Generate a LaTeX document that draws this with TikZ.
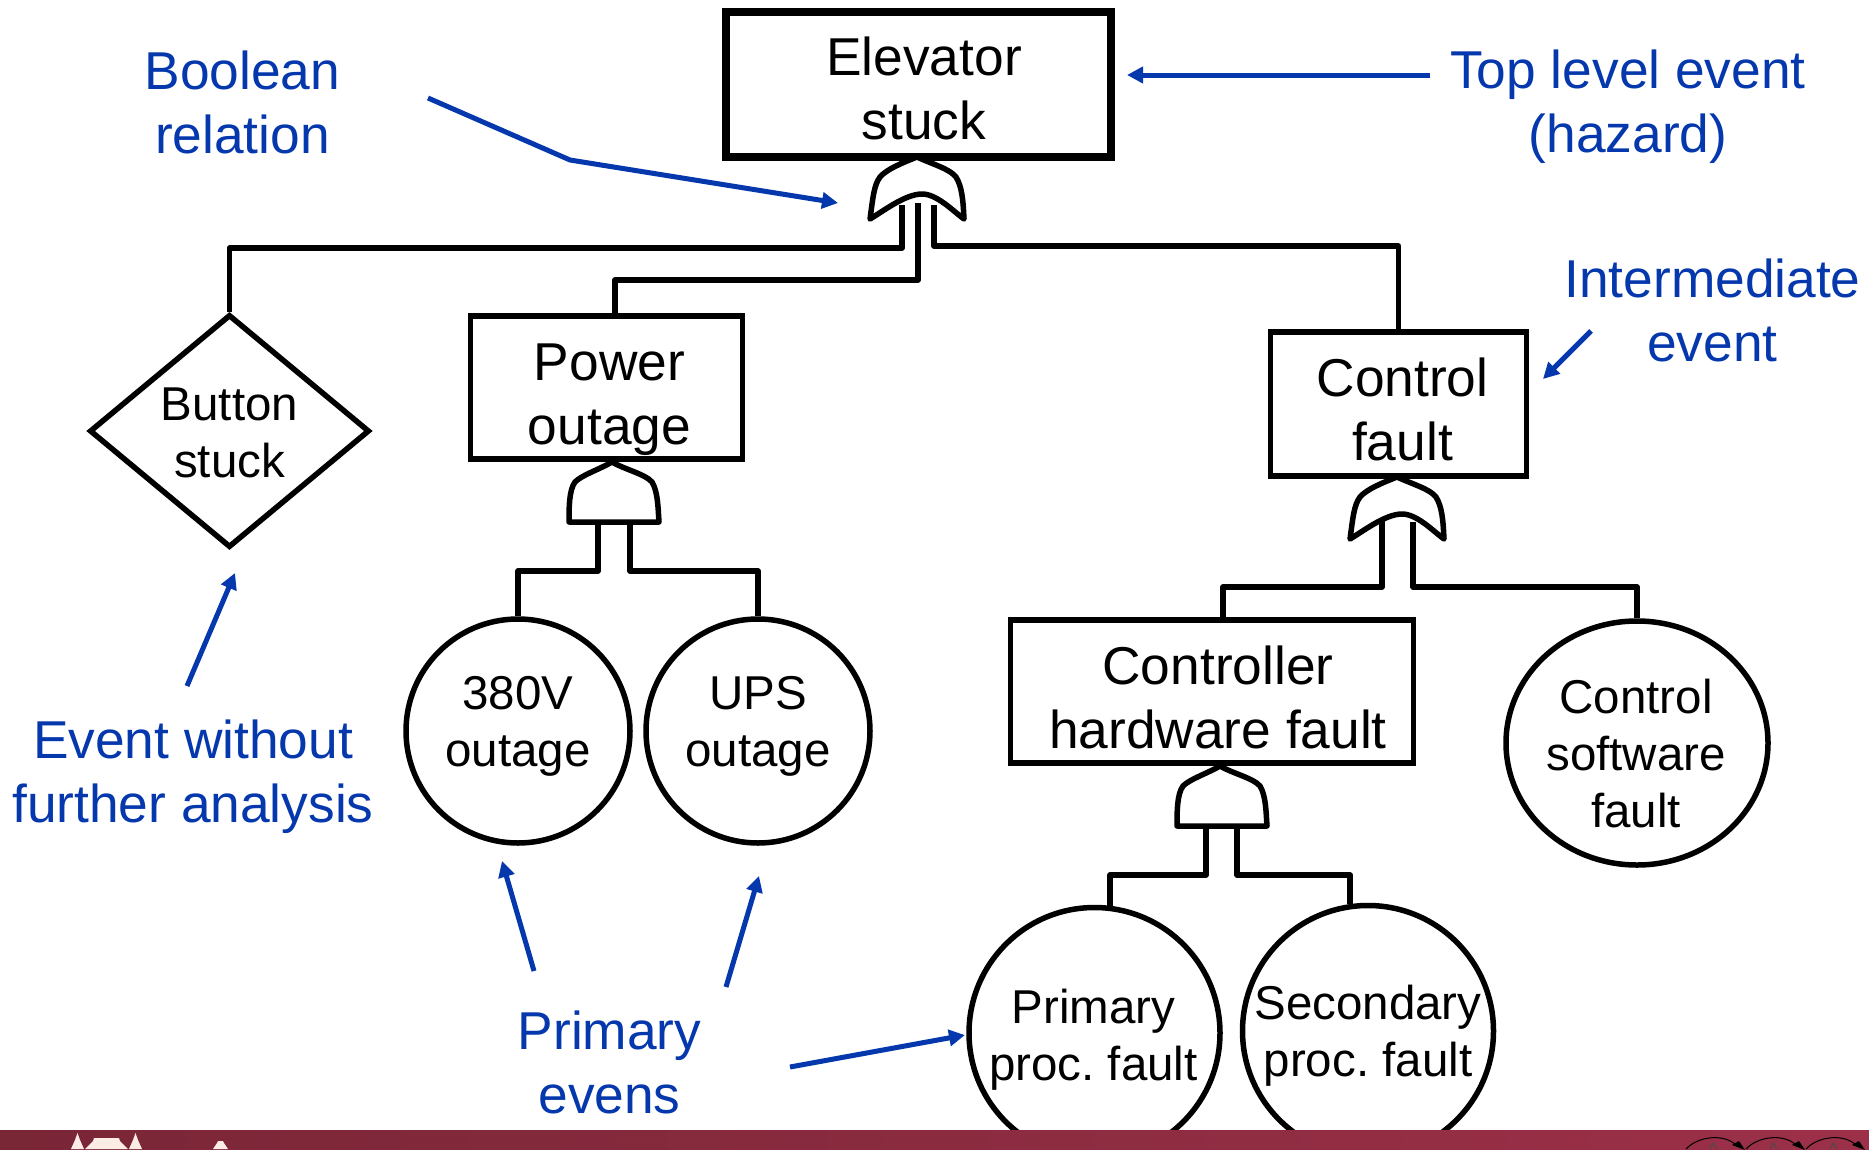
\documentclass[tikz,border=0pt]{standalone}
\usepackage{fontspec}
\setmainfont{Liberation Sans}
\usetikzlibrary{arrows.meta,shapes.geometric}
\frenchspacing
\definecolor{noteblue}{HTML}{0537AD}
\definecolor{footL}{HTML}{792637}
\definecolor{footR}{HTML}{9C3049}
\definecolor{cream}{HTML}{FBEDE6}
\tikzset{
  x=1pt,y=-1pt,
  big/.style={font=\fontsize{53.3}{64}\selectfont,align=center,inner sep=0pt},
  small/.style={font=\fontsize{47.5}{57}\selectfont,align=center,inner sep=0pt},
  boxnode/.style={draw=black,line width=5.5pt,rectangle},
  eventcirc/.style={draw=black,line width=5.5pt,circle,inner sep=0pt},
  wire/.style={draw=black,line width=5.5pt,line join=round},
  gatepath/.style={draw=black,line width=5.5pt,fill=white,line join=round},
  note/.style={big,text=noteblue},
  notearrow/.style={draw=noteblue,line width=5pt,-{Triangle[length=16pt,width=16pt]}}
}
\begin{document}
\begin{tikzpicture}
\useasboundingbox (0,0) rectangle (1869,1149);
\fill[white] (0,0) rectangle (1869,1149);

% events
\node[boxnode,line width=8pt,minimum width=385pt,minimum height=145pt,label={[big,xshift=6pt,yshift=-4pt]center:Elevator\\stuck}] (top) at (918,84) {};
\node[boxnode,minimum width=272pt,minimum height=143pt,label={[big,xshift=3pt,yshift=-12pt]center:Power\\outage}] (power) at (606.5,387.5) {};
\node[boxnode,minimum width=256pt,minimum height=144pt,label={[big,xshift=4pt,yshift=-5pt]center:Control\\fault}] (control) at (1398.5,404) {};
\node[boxnode,minimum width=403pt,minimum height=143pt,label={[big,xshift=6pt,yshift=-6pt]center:Controller\\hardware fault}] (hw) at (1212,691.5) {};
\node[draw=black,line width=5.5pt,diamond,inner sep=0pt,minimum width=280pt,minimum height=233pt,label={[small,yshift=-2pt]center:Button\\stuck}] (button) at (229.5,431) {};
\node[eventcirc,minimum size=224pt,label={[small,yshift=5pt]center:380V\\outage}] (e380) at (518,731) {};
\node[eventcirc,minimum size=224pt,label={[small,yshift=5pt]center:UPS\\outage}] (ups) at (758,731) {};
\node[draw=black,line width=5.5pt,ellipse,inner sep=0pt,minimum width=262pt,minimum height=244pt,label={[small,yshift=-11pt,xshift=-1pt]center:Control\\software\\fault}] (sw) at (1637,743) {};
\node[eventcirc,minimum size=251pt,label={[small,yshift=-7pt,xshift=-1pt]center:Primary\\proc. fault}] (prim) at (1094.5,1033) {};
\node[eventcirc,minimum size=251pt,label={[small,yshift=-5pt]center:Secondary\\proc. fault}] (sec) at (1368,1031) {};

% gate inputs
\coordinate (g1a) at (902,205);
\coordinate (g1b) at (918,203);
\coordinate (g1c) at (934,205);
\coordinate (g2a) at (598,522);
\coordinate (g2b) at (630,522);
\coordinate (g3a) at (1382,515);
\coordinate (g3b) at (1413,522);
\coordinate (g4a) at (1206,827);
\coordinate (g4b) at (1237,827);

% connectors
\draw[wire] (button.north) -- (button.north |- 0,248) -- (902,248) -- (g1a);
\draw[wire] (power.north -| 615,0) -- (615,280) -- (918,280) -- (g1b);
\draw[wire] (control.north) -- (control.north |- 0,246) -- (934,246) -- (g1c);
\draw[wire] (e380.north) -- (e380.north |- 0,571) -- (598,571) -- (g2a);
\draw[wire] (ups.north) -- (ups.north |- 0,571) -- (630,571) -- (g2b);
\draw[wire] (hw.north -| 1223,0) -- (1223,587) -- (1382,587) -- (g3a);
\draw[wire] (sw.north) -- (sw.north |- 0,587) -- (1413,587) -- (g3b);
\draw[wire] (prim.83) -- (prim.83 |- 0,875) -- (1206,875) -- (g4a);
\draw[wire] (sec.98) -- (sec.98 |- 0,875) -- (1237,875) -- (g4b);

% gates
\newcommand{\orgate}[2]{%
  \draw[gatepath,shift={(#1,#2)}] (0,0) .. controls (-15,6) and (-30,12) .. (-37,20)
    .. controls (-43,28) and (-44,40) .. (-47,62)
    .. controls (-35,55) and (-12,37) .. (5,37)
    .. controls (20,37) and (36,54) .. (47,62)
    .. controls (46,42) and (45,30) .. (39,20)
    .. controls (33,12) and (15,7) .. (0,0) -- cycle;}
\newcommand{\andgate}[2]{%
  \draw[gatepath,shift={(#1,#2)}] (0,0) .. controls (-14,8) and (-30,13) .. (-37,20)
    .. controls (-43,28) and (-43,46) .. (-43,60) -- (47,60)
    .. controls (46,46) and (46,30) .. (40,20)
    .. controls (33,12) and (14,8) .. (0,0) -- cycle;}
\orgate{917}{157}
\andgate{612}{462}
\orgate{1397}{477}
\andgate{1220}{766}

% footer
\shade[left color=footL,right color=footR] (0,1130.5) rectangle (1869,1149);
\fill[cream] (71,1149) -- (75,1140) -- (77.5,1133) -- (80,1140) -- (84,1149) -- cycle;
\fill[cream] (85,1149) -- (93,1141) -- (94,1138) -- (119,1138) -- (120,1141) -- (128,1149) -- cycle;
\fill[cream] (129,1149) -- (133,1140) -- (135.5,1133) -- (138,1140) -- (142,1149) -- cycle;
\fill[cream] (213,1149) -- (217,1143) -- (218,1141) -- (223,1141) -- (224,1143) -- (228,1149) -- cycle;
\foreach \cx in {1713,1773,1833}{
  \draw[black,line width=1pt] (\cx-27,1149) .. controls (\cx-15,1136) and (\cx+12,1133) .. (\cx+24,1146);
  \fill[black] (\cx+32,1150) -- (\cx+19,1145) -- (\cx+26,1141) -- cycle;
  \draw[black!70,line width=1pt] (\cx-3,1149) -- (\cx,1143) -- (\cx+4,1149);
}

% notes
\node[note] (nBool) at (242.5,102) {Boolean\\relation};
\node[note] (nTop) at (1628,107) {Top level event\\(hazard)};
\node[note] (nInter) at (1712.5,310) {Intermediate\\event};
\node[note] (nNone) at (193,777) {Event without\\further analysis};
\node[note] (nPrim) at (609.5,1062) {Primary\\evens};

\coordinate (aTopS) at (1430,75); \coordinate (aTopE) at (1127,75);
\coordinate (aBoolS) at (428,98); \coordinate (aBoolM) at (570,160); \coordinate (aBoolE) at (838,203);
\coordinate (aIntS) at (1591,331); \coordinate (aIntE) at (1543,379);
\coordinate (aNoneS) at (187,686); \coordinate (aNoneE) at (235,573);
\coordinate (aP1S) at (534,971); \coordinate (aP1E) at (502,861);
\coordinate (aP2S) at (726,987); \coordinate (aP2E) at (759,876);
\coordinate (aP3S) at (790,1067); \coordinate (aP3E) at (965,1035);

\draw[notearrow] (aTopS) -- (aTopE);
\draw[notearrow] (aBoolS) -- (aBoolM) -- (aBoolE);
\draw[notearrow] (aIntS) -- (aIntE);
\draw[notearrow] (aNoneS) -- (aNoneE);
\draw[notearrow] (aP1S) -- (aP1E);
\draw[notearrow] (aP2S) -- (aP2E);
\draw[notearrow] (aP3S) -- (aP3E);
\end{tikzpicture}
\end{document}
